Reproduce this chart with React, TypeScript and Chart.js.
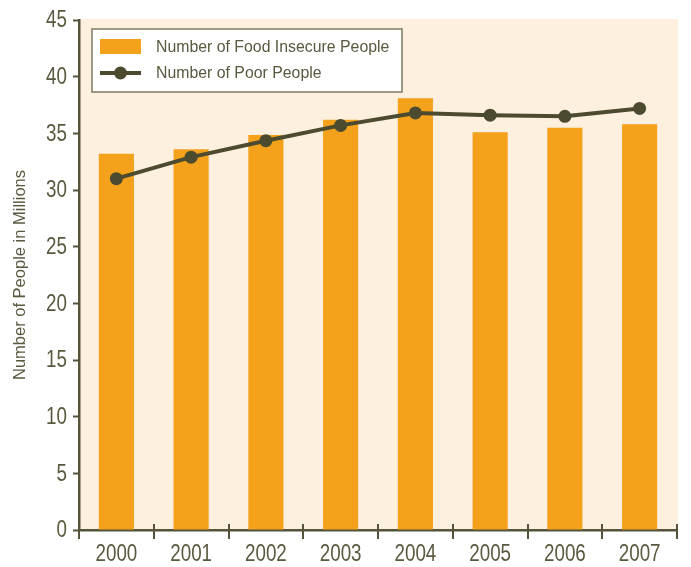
import React, { useEffect, useRef } from "react";
import { Chart, registerables } from "chart.js";

Chart.register(...registerables);

const years = ["2000", "2001", "2002", "2003", "2004", "2005", "2006", "2007"];
const foodInsecure = [33.2, 33.6, 34.85, 36.2, 38.1, 35.1, 35.5, 35.8];
const poorPeople = [31.0, 32.9, 34.35, 35.7, 36.8, 36.6, 36.5, 37.2];
const yTicks = [0, 5, 10, 15, 20, 25, 30, 35, 40, 45];

const FONT = "'Liberation Sans', Arial, sans-serif";
const ORANGE = "#F4A11C";
const OLIVE = "#4D4B2F";
const AXIS = "#55533A";
const TEXT = "#5A583F";
const PANEL = "#FDF0DF";

// Tick numerals are set in a narrowed face
const TICK_SIZE = 23.5;
const TICK_SQUEEZE = 0.8;

function squeezedText(ctx: CanvasRenderingContext2D, text: string, x: number, y: number, align: "left" | "right" | "center") {
  ctx.save();
  ctx.translate(x, y);
  ctx.scale(TICK_SQUEEZE, 1);
  ctx.textAlign = align;
  ctx.fillText(text, 0, 0);
  ctx.restore();
}

// Cream panel behind the plot area
const panelPlugin = {
  id: "panel",
  beforeDraw(chart: any) {
    const { ctx, chartArea: a } = chart;
    ctx.save();
    ctx.fillStyle = PANEL;
    ctx.fillRect(a.left, a.top - 1, a.right - a.left + 1, a.bottom - a.top + 1);
    ctx.restore();
  },
};

// Axis numerals and the category tick marks that straddle the x axis
const axisLabels = {
  id: "axisLabels",
  afterDraw(chart: any) {
    const { ctx, chartArea: a } = chart;
    const xs = chart.scales.x;
    const ys = chart.scales.y;
    ctx.save();
    ctx.strokeStyle = AXIS;
    ctx.lineWidth = 2;
    const n = years.length;
    const step = (a.right - a.left) / n;
    for (let i = 0; i <= n; i++) {
      const px = Math.round(a.left + i * step);
      ctx.beginPath();
      ctx.moveTo(px, a.bottom - (i === 0 ? 0 : 6));
      ctx.lineTo(px, a.bottom + 9);
      ctx.stroke();
    }

    ctx.fillStyle = TEXT;
    ctx.font = `${TICK_SIZE}px ${FONT}`;
    ctx.textBaseline = "middle";
    years.forEach((label, i) => {
      squeezedText(ctx, label, xs.getPixelForValue(i), a.bottom + 25, "center");
    });
    yTicks.forEach((v) => {
      squeezedText(ctx, String(v), a.left - 12, ys.getPixelForValue(v) + 1, "right");
    });
    ctx.restore();
  },
};

// Boxed legend sitting inside the top-left of the plot area
const insetLegend = {
  id: "insetLegend",
  afterDraw(chart: any) {
    const { ctx, chartArea: a } = chart;
    const x = a.left + 13;
    const y = a.top + 9;
    const w = 310;
    const h = 63;
    ctx.save();
    ctx.fillStyle = "#FFFFFF";
    ctx.fillRect(x, y, w, h);
    ctx.strokeStyle = "#7C7963";
    ctx.lineWidth = 1.5;
    ctx.strokeRect(x, y, w, h);

    const ds = chart.data.datasets;
    const bars = ds.find((d: any) => d.type === "bar");
    const line = ds.find((d: any) => d.type === "line");
    const sx = x + 8;
    const sw = 41;
    ctx.fillStyle = bars.backgroundColor;
    ctx.fillRect(sx, y + 10, sw, 15);
    const ly = y + 44;
    ctx.strokeStyle = line.borderColor;
    ctx.lineWidth = 4;
    ctx.beginPath();
    ctx.moveTo(sx, ly);
    ctx.lineTo(sx + sw, ly);
    ctx.stroke();
    ctx.fillStyle = line.pointBackgroundColor;
    ctx.beginPath();
    ctx.arc(sx + sw / 2, ly, 6.5, 0, Math.PI * 2);
    ctx.fill();

    ctx.fillStyle = TEXT;
    ctx.font = `16.5px ${FONT}`;
    ctx.textBaseline = "middle";
    ctx.textAlign = "left";
    ctx.save();
    ctx.translate(x + 64, 0);
    ctx.scale(0.96, 1);
    ctx.fillText(bars.label, 0, y + 18);
    ctx.fillText(line.label, 0, ly);
    ctx.restore();
    ctx.restore();
  },
};

export default function App() {
  const canvasRef = useRef<HTMLCanvasElement | null>(null);

  useEffect(() => {
    if (!canvasRef.current) return;
    const chart = new Chart(canvasRef.current, {
      type: "bar",
      data: {
        labels: years,
        datasets: [
          {
            type: "bar",
            label: "Number of Food Insecure People",
            data: foodInsecure,
            backgroundColor: ORANGE,
            borderWidth: 0,
            barPercentage: 0.47,
            categoryPercentage: 1,
            order: 1,
          },
          {
            type: "line",
            label: "Number of Poor People",
            data: poorPeople,
            borderColor: OLIVE,
            backgroundColor: OLIVE,
            pointBackgroundColor: OLIVE,
            pointBorderColor: OLIVE,
            borderWidth: 4,
            pointRadius: 6.5,
            pointBorderWidth: 0,
            tension: 0,
            order: 0,
          } as any,
        ],
      },
      options: {
        animation: false,
        responsive: false,
        maintainAspectRatio: false,
        layout: { padding: { top: 20, right: 14, bottom: 0, left: 0 } },
        plugins: {
          legend: { display: false },
          tooltip: { enabled: false },
        },
        scales: {
          x: {
            offset: true,
            afterFit(scale: any) {
              scale.height = 37;
            },
            border: { display: true, color: AXIS, width: 2.5 },
            grid: { display: false },
            ticks: { display: false },
          },
          y: {
            min: 0,
            max: 45,
            afterFit(scale: any) {
              scale.width = 79;
            },
            afterBuildTicks(scale: any) {
              scale.ticks = yTicks.map((v) => ({ value: v }));
            },
            border: { display: true, color: AXIS, width: 2.5 },
            grid: {
              drawOnChartArea: false,
              drawTicks: true,
              tickLength: 6,
              color: AXIS,
              tickWidth: 2,
            },
            ticks: { display: false },
            title: {
              display: true,
              text: "Number of People in Millions",
              color: TEXT,
              font: { family: FONT, size: 16.5 },
              padding: { top: 11, bottom: 0 },
            },
          },
        },
      },
      plugins: [panelPlugin, axisLabels, insetLegend],
    });
    return () => chart.destroy();
  }, []);

  return (
    <div style={{ position: "fixed", left: 0, top: 0, width: 691, height: 567, background: "#FFFFFF" }}>
      <canvas ref={canvasRef} width={691} height={567} style={{ display: "block", width: 691, height: 567 }} />
    </div>
  );
}
